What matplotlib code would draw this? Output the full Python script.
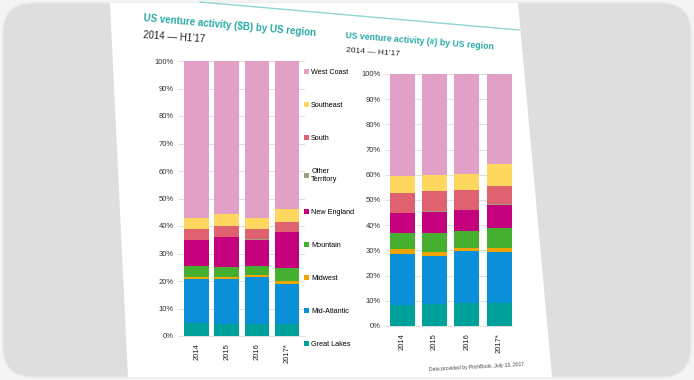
import matplotlib.pyplot as plt
import numpy as np
from matplotlib.patches import FancyBboxPatch, Polygon
from matplotlib.colors import LinearSegmentedColormap

# share of US venture activity by region, bottom -> top of each stack
years = ['2014', '2015', '2016', '2017*']
regions = ['Great Lakes', 'Mid-Atlantic', 'Midwest', 'Mountain', 'New England',
           'Other\nTerritory', 'South', 'Southeast', 'West Coast']

# capital invested ($B), % of total
usd_pct = [
    [4.9, 4.5, 4.2, 4.4],      # Great Lakes
    [15.7, 16.2, 17.4, 14.6],  # Mid-Atlantic
    [0.7, 0.8, 0.6, 1.0],      # Midwest
    [4.1, 3.5, 3.4, 4.7],      # Mountain
    [9.4, 10.9, 9.4, 13.2],    # New England
    [0.1, 0.1, 0.1, 0.1],      # Other Territory
    [4.1, 3.9, 3.7, 3.5],      # South
    [3.9, 4.4, 4.0, 4.6],      # Southeast
    [57.1, 55.7, 57.2, 53.9],  # West Coast
]

# deal count (#), % of total
count_pct = [
    [8.3, 8.6, 9.1, 9.0],
    [20.2, 19.3, 20.6, 20.4],
    [1.9, 1.5, 1.1, 1.4],
    [6.6, 7.4, 7.0, 8.1],
    [7.7, 8.5, 8.2, 9.2],
    [0.2, 0.2, 0.2, 0.2],
    [8.0, 8.0, 7.7, 7.3],
    [6.5, 6.6, 6.5, 8.8],
    [40.6, 39.9, 39.6, 35.6],
]

colors = ['#00a19b', '#0a8fd8', '#f0a400', '#45b02f', '#c5007d',
          '#a19d7e', '#e0616f', '#fed75e', '#e2a0c6']

plt.rcParams['font.family'] = ['Liberation Sans', 'DejaVu Sans']

W, H = 694, 380
fig = plt.figure(figsize=(W / 100, H / 100), dpi=100, facecolor='#f4f4f4')

# backdrop: photo of a slide on a grey screen
bg = fig.add_axes([0, 0, 1, 1], zorder=0)
frame = FancyBboxPatch((3, 3), W - 6, H - 6, boxstyle='round,pad=0,rounding_size=30',
                       fc='#dedede', ec='#e9e9e9', lw=1)
bg.add_patch(frame)
grad = np.linspace(0, 1, 256).reshape(1, -1)
cmap = LinearSegmentedColormap.from_list('side', ['#cfcfd2', '#a09fa9'])
im = bg.imshow(grad, extent=(3, 132, 377, 3), cmap=cmap, aspect='auto')
im.set_clip_path(frame)
bg.add_patch(Polygon([(110, 3), (518, 3), (552, 377), (128, 377)], closed=True,
                     fc='white', ec='none'))
bg.plot([200, 519], [2, 30], color='#8fd6d4', lw=1)
bg.set_xlim(0, W)
bg.set_ylim(H, 0)
bg.axis('off')

teal = '#28aaa5'
bg.text(143, 18, 'US venture activity ($B) by US region', color=teal, fontsize=7,
        fontweight='bold', ha='left', va='center', rotation=-5, rotation_mode='anchor')
bg.text(143, 35, '2014 \u2014 H1\u201917', color='#222222', fontsize=7,
        ha='left', va='center', rotation=-4, rotation_mode='anchor')
bg.text(345, 36, 'US venture activity (#) by US region', color=teal, fontsize=6.3,
        fontweight='bold', ha='left', va='center', rotation=-4.4, rotation_mode='anchor')
bg.text(346, 51, '2014 \u2014 H1\u201917', color='#222222', fontsize=6,
        ha='left', va='center', rotation=-4, rotation_mode='anchor')
bg.text(525, 364, 'Data provided by PitchBook, July 13, 2017.', color='#444444',
        fontsize=3.6, ha='right', va='center', rotation=3, rotation_mode='anchor')


def px_axes(left, top, right, bottom):
    return fig.add_axes([left / W, 1 - bottom / H, (right - left) / W, (bottom - top) / H],
                        zorder=2)


def stacked(ax, data, width, x0, x1):
    x = np.arange(len(years))
    base = np.zeros(len(years))
    for vals, col, name in zip(data, colors, regions):
        ax.bar(x, vals, width, bottom=base, color=col, label=name, zorder=2)
        base += np.array(vals)
    ax.set_xlim(x0, x1)
    ax.set_ylim(0, 100)
    ax.set_yticks(np.arange(0, 101, 10))
    ax.set_yticklabels([f'{v}%' for v in range(0, 101, 10)], fontsize=5.5, color='#333333')
    ax.set_xticks(x)
    ax.set_xticklabels(years, rotation=90, fontsize=5.5, color='#222222')
    ax.tick_params(length=0, pad=3)
    ax.tick_params(axis='x', pad=5)
    ax.grid(axis='y', color='#d9d9d9', lw=0.6, zorder=0)
    ax.set_axisbelow(True)
    for s in ['top', 'right', 'left']:
        ax.spines[s].set_visible(False)
    ax.spines['bottom'].set_color('#d9d9d9')
    ax.spines['bottom'].set_linewidth(0.6)
    ax.set_facecolor('none')


ax1 = px_axes(178, 61, 305, 336)
stacked(ax1, usd_pct, 0.83, -0.63, 3.6)

ax2 = px_axes(385, 74, 512, 326)
stacked(ax2, count_pct, 0.77, -0.53, 3.4)

handles, labels = ax1.get_legend_handles_labels()
ax1.legend(handles[::-1], labels[::-1], loc='upper left', bbox_to_anchor=(304, 69),
           bbox_transform=bg.transData, frameon=False, fontsize=5.2,
           handlelength=0.7, handleheight=0.7, handletextpad=0.3,
           labelspacing=3.6, borderpad=0, borderaxespad=0)

fig.savefig('out.png', dpi=100, facecolor=fig.get_facecolor())
